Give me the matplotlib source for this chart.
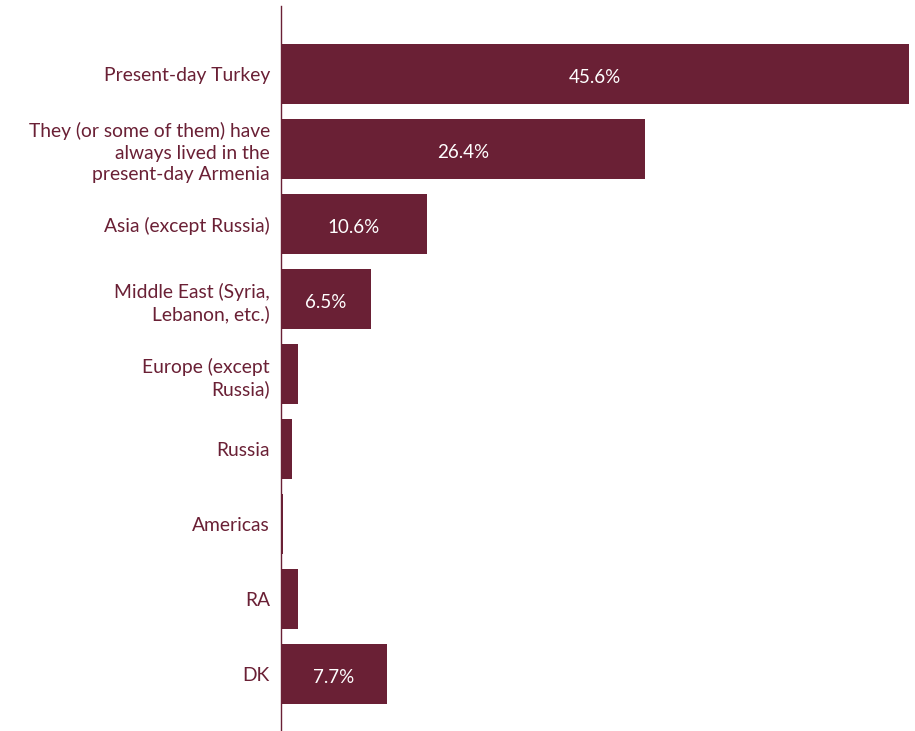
import matplotlib
matplotlib.use("Agg")
import matplotlib.pyplot as plt

categories = [
    "Present-day Turkey",
    "They (or some of them) have\nalways lived in the\npresent-day Armenia",
    "Asia (except Russia)",
    "Middle East (Syria,\nLebanon, etc.)",
    "Europe (except\nRussia)",
    "Russia",
    "Americas",
    "RA",
    "DK",
]
values = [45.6, 26.4, 10.6, 6.5, 1.2, 0.8, 0.15, 1.2, 7.7]
value_labels = ["45.6%", "26.4%", "10.6%", "6.5%", "", "", "", "", "7.7%"]

color = "#6a2035"
plt.rcParams["font.family"] = ["Lato", "DejaVu Sans"]

fig = plt.figure(figsize=(9.15, 7.31), dpi=100)
W, H = 915, 731
ax = fig.add_axes([281 / W, 0, (909 - 281) / W, (731 - 6) / H])

y = list(range(len(categories)))
ax.barh(y, values, height=0.8, color=color, zorder=3)
for yi, v, lab in zip(y, values, value_labels):
    if lab:
        ax.text(v / 2, yi + 0.04, lab, ha="center", va="center", color="white", fontsize=13.5)

ax.set_xlim(0, 45.6)
ax.set_ylim(8.76, -0.907)
ax.set_yticks(y)
ax.set_yticklabels(categories, fontsize=13.9, color=color, linespacing=1.3)
ax.tick_params(axis="y", length=0, pad=8)
ax.set_xticks([])
for s in ["top", "right", "bottom"]:
    ax.spines[s].set_visible(False)
ax.spines["left"].set_color(color)
ax.spines["left"].set_linewidth(1.0)
ax.spines["left"].set_zorder(2)

fig.savefig("out.png", dpi=100)
